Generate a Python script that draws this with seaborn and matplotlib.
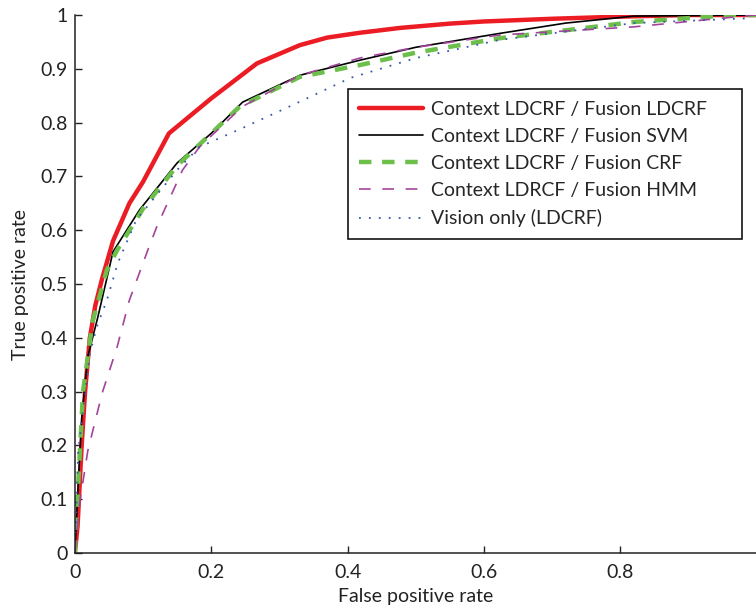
import numpy as np
import pandas as pd
import seaborn as sns
from matplotlib import pyplot as plt

# ROC points
fpr_ldcrf = [0, 0.004, 0.01, 0.015, 0.022, 0.03, 0.04, 0.056, 0.08, 0.1, 0.138, 0.2, 0.267, 0.33, 0.37, 0.418, 0.477, 0.55, 0.6, 0.7, 0.8, 0.9, 1.0]
tpr_ldcrf = [0, 0.05, 0.2, 0.3, 0.4, 0.46, 0.51, 0.58, 0.65, 0.69, 0.78, 0.845, 0.91, 0.944, 0.958, 0.967, 0.976, 0.984, 0.988, 0.993, 0.997, 1.0, 1.0]

fpr_svm = [0, 0.005, 0.01, 0.019, 0.034, 0.045, 0.056, 0.095, 0.15, 0.2, 0.246, 0.33, 0.418, 0.5, 0.624, 0.72, 0.82, 1.0]
tpr_svm = [0, 0.13, 0.25, 0.365, 0.44, 0.5, 0.56, 0.638, 0.725, 0.78, 0.838, 0.888, 0.916, 0.94, 0.966, 0.985, 0.998, 1.0]

fpr_crf = [0, 0.005, 0.012, 0.026, 0.047, 0.062, 0.1, 0.15, 0.2, 0.242, 0.33, 0.418, 0.5, 0.624, 0.82, 0.965, 1.0]
tpr_crf = [0, 0.13, 0.3, 0.43, 0.526, 0.563, 0.64, 0.72, 0.78, 0.83, 0.885, 0.907, 0.93, 0.957, 0.987, 1.0, 1.0]

fpr_hmm = [0, 0.007, 0.019, 0.04, 0.062, 0.08, 0.107, 0.12, 0.158, 0.183, 0.246, 0.33, 0.418, 0.5, 0.624, 0.82, 0.965, 1.0]
tpr_hmm = [0, 0.093, 0.19, 0.297, 0.383, 0.47, 0.563, 0.606, 0.712, 0.755, 0.83, 0.888, 0.92, 0.94, 0.963, 0.978, 0.996, 1.0]

fpr_vision = [0, 0.005, 0.022, 0.032, 0.047, 0.063, 0.09, 0.15, 0.183, 0.246, 0.32, 0.404, 0.5, 0.624, 0.82, 0.99]
tpr_vision = [0, 0.19, 0.37, 0.42, 0.47, 0.539, 0.619, 0.712, 0.755, 0.79, 0.833, 0.883, 0.92, 0.954, 0.985, 0.994]

labels = ['Context LDCRF / Fusion LDCRF',
          'Context LDCRF / Fusion SVM',
          'Context LDCRF / Fusion CRF',
          'Context LDRCF / Fusion HMM',
          'Vision only (LDCRF)']

sns.set_theme(style='ticks')
plt.rcParams['font.family'] = ['Lato', 'DejaVu Sans']
plt.rcParams['xtick.direction'] = 'in'
plt.rcParams['ytick.direction'] = 'in'

fig = plt.figure(figsize=(7.56, 6.10), dpi=100)
ax = fig.add_axes([0.099, 0.0934, 0.902, 0.882])

curves = [
    (fpr_ldcrf, tpr_ldcrf, dict(color='#ec1c24', linewidth=3.2, linestyle='-')),
    (fpr_svm, tpr_svm, dict(color='black', linewidth=1.2, linestyle='-')),
    (fpr_crf, tpr_crf, dict(color='#6cbf4a', linewidth=3.2, linestyle=(0, (2.8, 2.4)))),
    (fpr_hmm, tpr_hmm, dict(color='#a3449c', linewidth=1.2, linestyle=(0, (7, 7)))),
    (fpr_vision, tpr_vision, dict(color='#3a56a8', linewidth=1.3, linestyle=(0, (1, 4.5)))),
]
for (x, y, style), lab in zip(curves, labels):
    sns.lineplot(x=x, y=y, ax=ax, sort=False, estimator=None, label=lab, **style)

ax.set_xlim(0, 1)
ax.set_ylim(0, 1)
ax.set_xticks([0, 0.2, 0.4, 0.6, 0.8])
ax.set_xticklabels(['0', '0.2', '0.4', '0.6', '0.8'])
ax.set_yticks(np.arange(0, 1.01, 0.1))
ax.set_yticklabels(['0', '0.1', '0.2', '0.3', '0.4', '0.5', '0.6', '0.7', '0.8', '0.9', '1'])
ax.tick_params(labelsize=14, length=5, width=1, color='#222222', labelcolor='#222222')
ax.tick_params(axis='x', pad=8)
ax.tick_params(axis='y', pad=5)
ax.set_xlabel('False positive rate', fontsize=14, color='#222222', labelpad=5)
ax.set_ylabel('True positive rate', fontsize=14, color='#222222', labelpad=8)
for side in ['top', 'right']:
    ax.spines[side].set_visible(False)
for side in ['left', 'bottom']:
    ax.spines[side].set_linewidth(1.1)
    ax.spines[side].set_color('#222222')

leg = ax.legend(loc='upper left', bbox_to_anchor=(0.40, 0.576, 0.579, 0.286), mode='expand',
                fontsize=14, handlelength=3.3, handletextpad=0.4, labelspacing=0.52,
                borderpad=0.6, borderaxespad=0, fancybox=False, framealpha=1,
                edgecolor='black')
leg.get_frame().set_linewidth(1.1)

fig.savefig('out.png', dpi=100)
plt.close('all')
